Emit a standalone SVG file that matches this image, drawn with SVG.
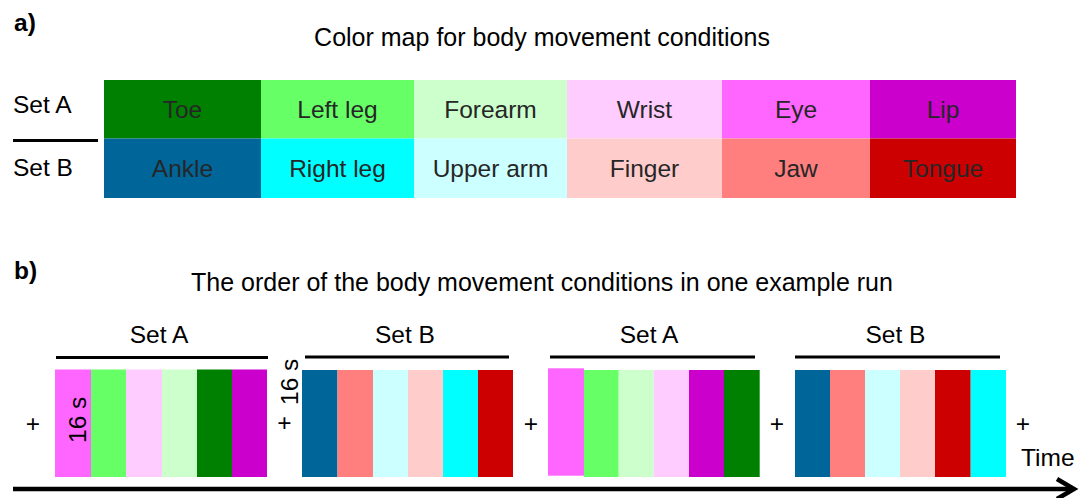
<svg xmlns="http://www.w3.org/2000/svg" width="1088" height="498" viewBox="0 0 1088 498">
  <style>
    text { font-family: "Liberation Sans", Arial, sans-serif; font-size: 24.5px; fill: #000; }
    .panel { font-weight: bold; }
    .title { font-size: 25px; text-anchor: middle; }
    .cell { fill: #262626; text-anchor: middle; }
    .mid { text-anchor: middle; }
    .bar { stroke: #000; stroke-width: 3; fill: none; }
    .axis { stroke: #000; stroke-width: 4.5; fill: none; }
    .toe { fill: #008000; } .leftleg { fill: #66ff66; } .forearm { fill: #ccffcc; }
    .wrist { fill: #ffccff; } .eye { fill: #ff66ff; } .lip { fill: #cc00cc; }
    .ankle { fill: #006699; } .rightleg { fill: #00ffff; } .upperarm { fill: #ccffff; }
    .finger { fill: #ffcccc; } .jaw { fill: #ff7f7f; } .tongue { fill: #cc0000; }
  </style>
  <rect width="1088" height="498" fill="#fff"/>

  <!-- Panel a: colour map -->
  <g id="panel-a">
    <text class="panel" x="14" y="31">a)</text>
    <text class="title" x="542" y="46">Color map for body movement conditions</text>
    <text x="13" y="113">Set A</text>
    <text x="13" y="176">Set B</text>
    <line class="bar" x1="13" y1="140.5" x2="98" y2="140.5"/>
  </g>

  <g id="map-setA">
    <g id="cell-toe"><rect class="toe" x="104" y="80" width="157" height="58.5"/><text class="cell" x="182.5" y="118">Toe</text></g>
    <g id="cell-leftleg"><rect class="leftleg" x="261" y="80" width="153" height="58.5"/><text class="cell" x="337.5" y="118">Left leg</text></g>
    <g id="cell-forearm"><rect class="forearm" x="414" y="80" width="153" height="58.5"/><text class="cell" x="490.5" y="118">Forearm</text></g>
    <g id="cell-wrist"><rect class="wrist" x="567" y="80" width="155" height="58.5"/><text class="cell" x="644.5" y="118">Wrist</text></g>
    <g id="cell-eye"><rect class="eye" x="722" y="80" width="148" height="58.5"/><text class="cell" x="796" y="118">Eye</text></g>
    <g id="cell-lip"><rect class="lip" x="870" y="80" width="146" height="58.5"/><text class="cell" x="943" y="118">Lip</text></g>
  </g>
  <g id="map-setB">
    <g id="cell-ankle"><rect class="ankle" x="104" y="138.5" width="157" height="59.5"/><text class="cell" x="182.5" y="177">Ankle</text></g>
    <g id="cell-rightleg"><rect class="rightleg" x="261" y="138.5" width="153" height="59.5"/><text class="cell" x="337.5" y="177">Right leg</text></g>
    <g id="cell-upperarm"><rect class="upperarm" x="414" y="138.5" width="153" height="59.5"/><text class="cell" x="490.5" y="177">Upper arm</text></g>
    <g id="cell-finger"><rect class="finger" x="567" y="138.5" width="155" height="59.5"/><text class="cell" x="644.5" y="177">Finger</text></g>
    <g id="cell-jaw"><rect class="jaw" x="722" y="138.5" width="148" height="59.5"/><text class="cell" x="796" y="177">Jaw</text></g>
    <g id="cell-tongue"><rect class="tongue" x="870" y="138.5" width="146" height="59.5"/><text class="cell" x="943" y="177">Tongue</text></g>
  </g>

  <!-- Panel b: example run -->
  <g id="panel-b">
    <text class="panel" x="14" y="279">b)</text>
    <text class="title" x="542" y="291">The order of the body movement conditions in one example run</text>
  </g>

  <g id="block-1">
    <text class="mid" x="159" y="343">Set A</text>
    <line class="bar" x1="56" y1="357.5" x2="268" y2="357.5"/>
    <rect class="eye" x="55" y="369.5" width="36" height="107.5"/>
    <rect class="leftleg" x="91" y="369.5" width="35" height="107.5"/>
    <rect class="wrist" x="126" y="369.5" width="36" height="107.5"/>
    <rect class="forearm" x="162" y="369.5" width="35" height="107.5"/>
    <rect class="toe" x="197" y="369.5" width="35" height="107.5"/>
    <rect class="lip" x="232" y="369.5" width="35" height="107.5"/>
    <text x="86" y="443" transform="rotate(-90 86 443)">16 s</text>
  </g>

  <g id="block-2">
    <text class="mid" x="405" y="343">Set B</text>
    <line class="bar" x1="305" y1="357" x2="509" y2="357"/>
    <rect class="ankle" x="302" y="370" width="35.5" height="107"/>
    <rect class="jaw" x="337.5" y="370" width="35.5" height="107"/>
    <rect class="upperarm" x="373" y="370" width="35" height="107"/>
    <rect class="finger" x="408" y="370" width="35" height="107"/>
    <rect class="rightleg" x="443" y="370" width="35" height="107"/>
    <rect class="tongue" x="478" y="370" width="35" height="107"/>
  </g>

  <g id="block-3">
    <text class="mid" x="649" y="343">Set A</text>
    <line class="bar" x1="550" y1="357" x2="755" y2="357"/>
    <rect class="eye" x="548" y="368.3" width="36" height="107.4"/>
    <rect class="leftleg" x="584" y="370" width="34.7" height="107"/>
    <rect class="forearm" x="618.7" y="370" width="35" height="107"/>
    <rect class="wrist" x="653.7" y="370" width="35.3" height="107"/>
    <rect class="lip" x="689" y="370" width="35" height="107"/>
    <rect class="toe" x="724" y="370" width="35.7" height="107"/>
  </g>

  <g id="block-4">
    <text class="mid" x="895.5" y="343">Set B</text>
    <line class="bar" x1="795" y1="357" x2="1000" y2="357"/>
    <rect class="ankle" x="795" y="370" width="35" height="107"/>
    <rect class="jaw" x="830" y="370" width="35" height="107"/>
    <rect class="upperarm" x="865" y="370" width="35" height="107"/>
    <rect class="finger" x="900" y="370" width="35" height="107"/>
    <rect class="tongue" x="935" y="370" width="35.7" height="107"/>
    <rect class="rightleg" x="970.7" y="370" width="35.3" height="107"/>
  </g>

  <!-- Fixation crosses between blocks -->
  <g id="fixations">
    <text class="mid" x="33" y="432">+</text>
    <text class="mid" x="284.5" y="431">+</text>
    <text x="298" y="405" transform="rotate(-90 298 405)">16 s</text>
    <text class="mid" x="531" y="432">+</text>
    <text class="mid" x="777" y="432">+</text>
    <text class="mid" x="1023" y="432">+</text>
    <text x="1021" y="466">Time</text>
  </g>

  <!-- Time axis -->
  <g id="connectors">
    <line class="axis" x1="13" y1="489" x2="1073" y2="489"/>
    <polyline class="axis" points="1057,479 1074,489 1057,499"/>
  </g>
</svg>
